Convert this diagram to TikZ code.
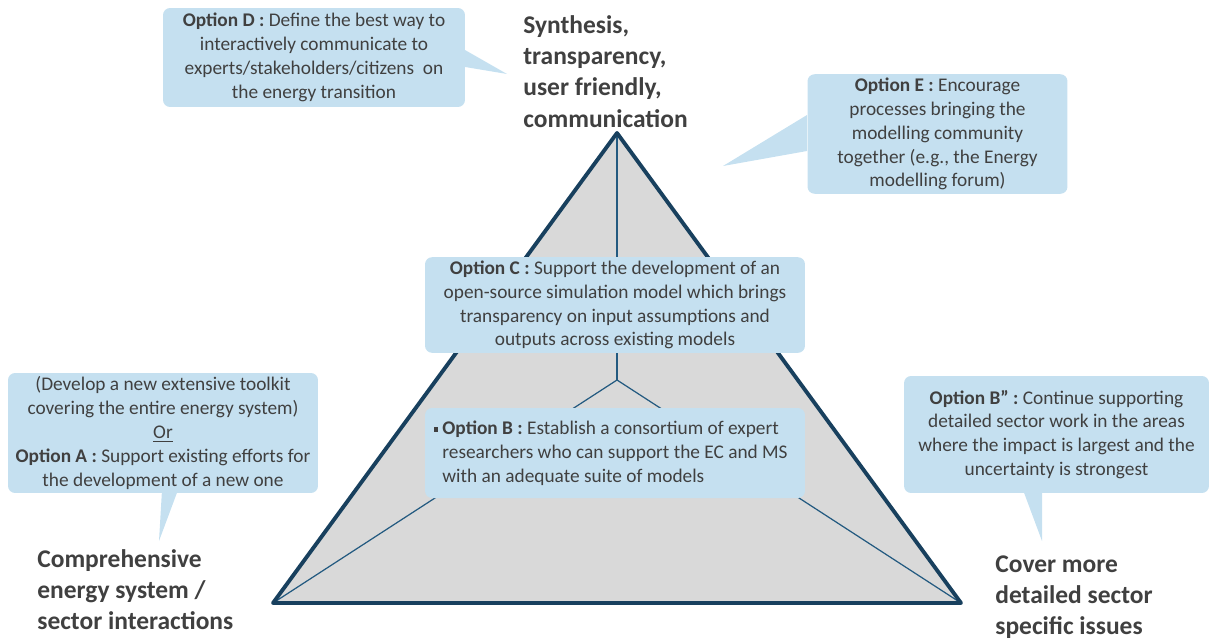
\documentclass[tikz,border=0pt]{standalone}
\usepackage{fontspec}
\setmainfont{Carlito}
\usetikzlibrary{positioning}

\definecolor{boxblue}{RGB}{197,224,240}
\definecolor{navy}{RGB}{24,64,94}
\definecolor{thinline}{RGB}{35,90,128}
\definecolor{pyrgray}{RGB}{217,217,217}
\definecolor{txtgray}{RGB}{64,64,64}

\begin{document}
\begin{tikzpicture}[
  x=0.02cm, y=-0.02cm,
  option/.style={rectangle, rounded corners=4pt, fill=boxblue, inner sep=2pt, align=center,
    text=txtgray, font=\fontsize{11}{13.6}\selectfont},
  tail/.style={fill=boxblue},
  corner/.style={font=\bfseries\fontsize{14.5}{17.8}\selectfont, text=txtgray, align=left, inner sep=0pt},
  edge/.style={draw=navy, line width=2.2pt, line join=round},
  inner/.style={draw=thinline, line width=0.7pt}
]
\useasboundingbox (0,0) rectangle (1209,639);

% pyramid
\coordinate (top) at (617,133);
\coordinate (left) at (273,603);
\coordinate (right) at (961,603);
\coordinate (mid) at (617,380);
\path[fill=pyrgray] (top) -- (left) -- (right) -- cycle;
\draw[inner] (top) -- (mid);
\draw[inner] (mid) -- (left);
\draw[inner] (mid) -- (right);
\draw[edge] (top) -- (left) -- (right) -- cycle;

% corner labels
\node[corner, anchor=north west] (synth) at (523,15)
  {Synthesis,\\transparency,\\user friendly,\\communication};
\node[corner, anchor=north west] (compr) at (37,549)
  {Comprehensive\\energy system /\\sector interactions};
\node[corner, anchor=north west] (cover) at (995,555)
  {Cover more\\detailed sector\\specific issues};

% callout tails
\fill[tail] (465,50) -- (507,74) -- (465,67) -- cycle;
\fill[tail] (807,115) -- (723,166) -- (807,151) -- cycle;
\fill[tail] (162,490) -- (159,541) -- (178,490) -- cycle;
\fill[tail] (1023,490) -- (1042,541) -- (1042,490) -- cycle;

% option boxes
\node[option, minimum width=6.04cm, minimum height=1.98cm] (optD) at (314,57.5)
  {\textbf{Option D :} Define the best way to\\interactively communicate to\\
   experts/stakeholders/citizens\ \ on\\the energy transition};
\node[option, minimum width=5.2cm, minimum height=2.32cm] (optE) at (937.5,134)
  {\textbf{Option E :} Encourage\\processes bringing the\\modelling community\\
   together (e.g., the Energy\\modelling forum)};
\node[option, minimum width=7.6cm, minimum height=1.88cm] (optC) at (615,305)
  {\textbf{Option C :} Support the development of an\\open-source simulation model which brings\\
   transparency on input assumptions and\\outputs across existing models};
\node[option, align=left, minimum width=7.6cm, minimum height=1.8cm] (optB) at (615,453)
  {\llap{\rule[0.3ex]{0.45ex}{0.45ex}\ }\textbf{Option B :} Establish a consortium of expert\\
   researchers who can support the EC and MS\\with an adequate suite of models};
\node[option, minimum width=6.2cm, minimum height=2.4cm] (optA) at (163,433)
  {(Develop a new extensive toolkit\\covering the entire energy system)\\\underline{Or}\\
   \textbf{Option A :} Support existing efforts for\\the development of a new one};
\node[option, minimum width=6.1cm, minimum height=2.34cm] (optBB) at (1056.5,434.5)
  {\textbf{Option B” :} Continue supporting\\detailed sector work in the areas\\
   where the impact is largest and the\\uncertainty is strongest};
\end{tikzpicture}
\end{document}
